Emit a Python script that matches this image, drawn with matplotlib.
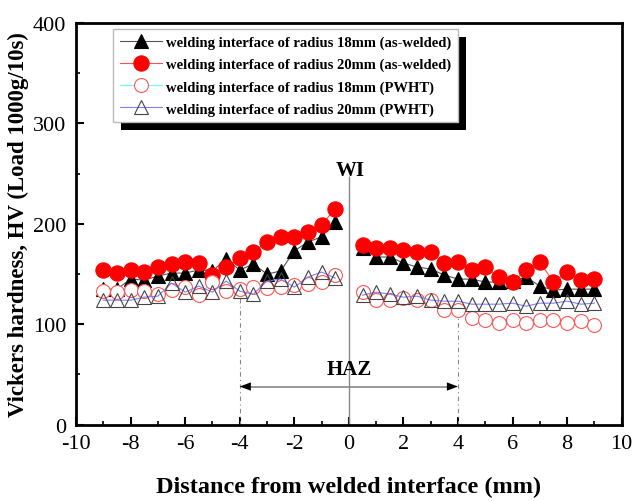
import matplotlib
matplotlib.use('Agg')
import matplotlib.pyplot as plt
import numpy as np
from matplotlib.patches import Rectangle
from matplotlib.transforms import IdentityTransform

plt.rcParams['font.family'] = ['Liberation Serif', 'DejaVu Serif']
plt.rcParams['axes.unicode_minus'] = False

# Distance from welded interface (mm)
distance = [-9, -8.5, -8, -7.5, -7, -6.5, -6, -5.5, -5, -4.5, -4, -3.5, -3, -2.5, -2, -1.5, -1, -0.5,
            0.5, 1, 1.5, 2, 2.5, 3, 3.5, 4, 4.5, 5, 5.5, 6, 6.5, 7, 7.5, 8, 8.5, 9]

# Vickers hardness values
hv_18_aswelded = [135, 135, 145, 144, 148, 151, 151, 154, 153, 165, 154, 160, 150, 153, 173, 182, 187, 202,
                  176, 167, 167, 161, 157, 155, 149, 145, 145, 142, 142, 143, 147, 138, 134, 135, 135, 135]
hv_20_aswelded = [154, 151, 154, 152, 157, 160, 162, 161, 149, 157, 166, 172, 182, 187, 187, 192, 199, 215,
                  179, 176, 176, 174, 172, 172, 161, 162, 154, 157, 147, 142, 154, 162, 142, 152, 144, 145]
hv_18_pwht = [133, 132, 134, 133, 130, 134, 137, 129, 142, 133, 135, 137, 136, 137, 139, 140, 142, 149,
              132, 124, 124, 126, 124, 124, 114, 114, 106, 104, 101, 104, 101, 104, 104, 101, 103, 99]
hv_20_pwht = [124, 124, 124, 127, 128, 141, 132, 138, 132, 143, 133, 130, 143, 145, 137, 147, 152, 146,
              129, 132, 130, 127, 128, 124, 123, 123, 120, 120, 120, 121, 118, 121, 121, 123, 120, 121]

labels = ['welding interface of radius 18mm (as-welded)',
          'welding interface of radius 20mm (as-welded)',
          'welding interface of radius 18mm (PWHT)',
          'welding interface of radius 20mm (PWHT)']

x_ticks = [-10, -8, -6, -4, -2, 0, 2, 4, 6, 8, 10]
y_ticks = [0, 100, 200, 300, 400]

fig = plt.figure(figsize=(6.34, 5.02), dpi=100)
ax = fig.add_axes([0.1199, 0.152, 0.8607, 0.8002])

x = np.array(distance, dtype=float)
styles = [
    dict(color='#555555', marker='^', ms=9.5, mfc='black', mec='black', mew=0.8),
    dict(color='#ff5050', marker='o', ms=11, mfc='red', mec='red', mew=0.8),
    dict(color='#66ffff', marker='o', ms=10, mfc='white', mec='#ff5555', mew=0.8),
    dict(color='#8080ff', marker='^', ms=9.5, mfc='none', mec='#444444', mew=0.8),
]
series = [hv_18_aswelded, hv_20_aswelded, hv_18_pwht, hv_20_pwht]
order = [3, 0, 1, 2]
handles = [None] * 4
for i in order:
    y = np.array(series[i], dtype=float)
    for k, m in enumerate([x < 0, x > 0]):
        h, = ax.plot(x[m], y[m], lw=0.8, zorder=3 + i * 0.1, **styles[i])
        if k == 0:
            handles[i] = h

# WI line and label
ax.vlines(0, 0, 248, color='#888888', lw=1.0, zorder=2)
ax.text(0.05, 254, 'WI', ha='center', va='center', fontsize=15, fontweight='bold')

# HAZ markers
ax.vlines([-4], 0, 128, color='#888888', lw=0.8, linestyles=[(0, (4, 3, 1, 3))], zorder=2)
ax.vlines([4], 0, 112, color='#888888', lw=0.8, linestyles=[(0, (4, 3, 1, 3))], zorder=2)
ax.hlines(38, -3.8, 3.8, color='#888888', lw=1.2, zorder=2)
for xs, xe in [(-3.5, -4.0), (3.5, 4.0)]:
    ax.annotate('', xy=(xe, 38), xytext=(xs, 38),
                arrowprops=dict(arrowstyle='-|>,head_length=0.8,head_width=0.3',
                                color='black', lw=0.01, shrinkA=0, shrinkB=0))
ax.text(0, 55, 'HAZ', ha='center', va='center', fontsize=15, fontweight='bold')

ax.set_xlim(-10, 10)
ax.set_ylim(0, 400)
ax.set_xticks(x_ticks)
ax.set_yticks(y_ticks)
ax.set_xticks([-9, -7, -5, -3, -1, 1, 3, 5, 7, 9], minor=True)
ax.set_yticks([50, 150, 250, 350], minor=True)
ax.tick_params(which='both', direction='in', top=False, right=False, labelsize=16)
ax.tick_params(which='major', length=6, width=1.5, pad=7)
ax.tick_params(which='minor', length=3, width=1.2)
for s in ax.spines.values():
    s.set_linewidth(2.0)

ax.set_xlabel('Distance from welded interface (mm)', fontsize=17.5, fontweight='bold', labelpad=16)
ax.set_ylabel('Vickers hardness, HV (Load 1000g/10s)', fontsize=16.5, fontweight='bold', labelpad=3)

leg = ax.legend(handles, labels, loc='upper left', bbox_to_anchor=(0.068, 0.985),
                borderaxespad=0, fancybox=False, frameon=True, framealpha=1.0, handlelength=2.9,
                labelspacing=0.6, handletextpad=0.3, borderpad=0.45,
                prop=dict(family='Liberation Serif', weight='bold', size=10.5))
leg.get_frame().set_edgecolor('#bbbbbb')
leg.get_frame().set_facecolor('white')
leg.get_frame().set_linewidth(1.0)
leg.set_zorder(6)

fig.canvas.draw()
bb = leg.get_window_extent()
shadow = Rectangle((bb.x0 + 8, bb.y0 - 8), bb.width, bb.height, transform=IdentityTransform(),
                   facecolor='black', edgecolor='none', zorder=5.9)
ax.add_artist(shadow)

fig.savefig('out.png', dpi=100)
